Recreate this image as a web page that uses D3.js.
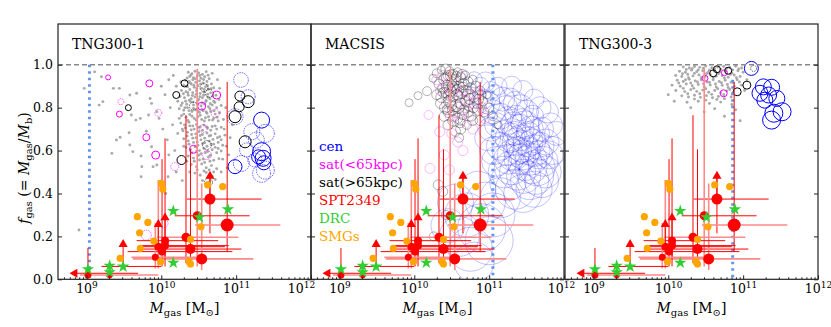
<!DOCTYPE html>
<html>
<head>
<meta charset="utf-8">
<script src="https://cdn.jsdelivr.net/npm/d3@7"></script>
<style>
  body { margin: 0; background: #fff; }
  svg { display: block; }
  text { font-family: "DejaVu Serif", serif; }
</style>
</head>
<body>
<svg id="chart" width="831" height="327"></svg>
<script>

// ---- data (log10 Mgas, f_gas) ----
var panelNames = ["TNG300-1", "MACSIS", "TNG300-3"];
var xTicks = [1e9, 1e10, 1e11, 1e12];
var yTicks = [0, 0.2, 0.4, 0.6, 0.8, 1.0];
var limitMass = [9.04, 11.05, 10.86];   // blue dotted line, log M
var limitTop = [1.0, 1.0, 0.93];

var legendNames = ["cen", "sat(<65kpc)", "sat(>65kpc)", "SPT2349", "DRC", "SMGs"];
var legendColors = ["#0000ff", "#ff00ff", "#000000", "#ff0000", "#32cd32", "#ffa500"];

// SPT2349: logM, f, r, xlo, xhi, ylo, yhi, lightX, lightY
var sptPoints = [
	[10.65, 0.374, 5.5, 10.34, 11.34, 0.214, 0.48, 0, 0],
	[10.88, 0.253, 6.5, 10.45, 11.59, 0.129, 0.92, 1, 0],
	[10.48, 0.296, 4.5, 10.18, 11.18, 0.06, 0.98, 0, 1],
	[10.33, 0.196, 4.5, 9.94, 11.03, 0.076, 0.765, 1, 0],
	[10.39, 0.141, 5, 9.76, 11.07, 0.09, 0.606, 0, 0],
	[10.54, 0.095, 5.5, 9.62, 11.23, 0.043, 0.447, 1, 1],
	[10.05, 0.18, 4, 9.67, 10.76, 0.06, 0.657, 0, 0],
	[10.05, 0.157, 4, 9.7, 10.9, 0.1, 0.2, 0, 0],
	[9.96, 0.152, 4, 9.75, 10.85, 0.05, 0.463, 0, 1],
	[10.01, 0.129, 4, 9.55, 10.95, 0.06, 0.56, 0, 0],
	[9.92, 0.103, 3.5, 9.6, 10.6, 0.05, 0.263, 1, 1],
	[9.02, 0.02, 3.5, 8.91, 9.96, 0.0, 0.146, 1, 0],
	[9.31, 0.015, 2.5, 9.31, 9.31, 0.015, 0.015, 0, 0]
];
// lower limits: logM, f, stem bottom, xlo, xhi
var sptUp = [
	[10.65, 0.486, 0.374, null, null],
	[10.05, 0.292, 0.18, null, null],
	[9.96, 0.261, 0.152, null, null],
	[9.49, 0.168, 0.06, 9.2, 10.0]
];
// upper limit in mass: logM, f, line end
var sptLeft = [[8.83, 0.028, 9.69]];

var drcPoints = [
	[10.16, 0.318], [10.51, 0.289], [10.89, 0.326], [10.16, 0.077],
	[9.02, 0.047], [9.31, 0.063], [9.31, 0.033], [9.49, 0.059]
];

var smgPoints = [
	[10.0, 0.447], [10.02, 0.42], [9.68, 0.292], [9.82, 0.265], [9.71, 0.217],
	[9.9, 0.178], [9.72, 0.144], [9.45, 0.098], [9.99, 0.082], [10.62, 0.44],
	[10.82, 0.432], [10.53, 0.245], [10.39, 0.186], [10.37, 0.082], [10.39, 0.071]
];

// TNG300-1
var tng1Gray = [
	[10.36,0.965],[10.41,0.958],[10.45,0.97],[10.5,0.962],[10.55,0.955],[10.6,0.968],[10.38,0.945],[10.43,0.94],[10.48,0.948],[10.53,0.937],
	[10.58,0.944],[10.64,0.935],[10.32,0.928],[10.37,0.922],[10.42,0.93],[10.46,0.918],[10.51,0.925],[10.56,0.915],[10.61,0.922],[10.67,0.91],
	[10.3,0.905],[10.35,0.898],[10.4,0.91],[10.44,0.895],[10.49,0.902],[10.54,0.89],[10.59,0.897],[10.63,0.886],[10.7,0.893],[10.27,0.88],
	[10.33,0.874],[10.38,0.885],[10.42,0.87],[10.47,0.878],[10.52,0.866],[10.57,0.873],[10.62,0.862],[10.66,0.869],[10.73,0.858],[10.25,0.852],
	[10.31,0.846],[10.36,0.858],[10.4,0.842],[10.45,0.85],[10.5,0.838],[10.55,0.846],[10.6,0.834],[10.65,0.842],[10.7,0.83],[10.77,0.838],
	[10.28,0.822],[10.34,0.816],[10.39,0.828],[10.43,0.812],[10.48,0.82],[10.53,0.808],[10.58,0.816],[10.63,0.804],[10.68,0.812],[10.74,0.8],
	[10.8,0.81],[10.24,0.795],[10.3,0.788],[10.35,0.8],[10.41,0.782],[10.46,0.79],[10.51,0.778],[10.56,0.786],[10.61,0.774],[10.66,0.782],
	[10.72,0.77],[10.78,0.776],[10.27,0.762],[10.33,0.755],[10.38,0.768],[10.44,0.75],[10.49,0.758],[10.54,0.745],[10.59,0.753],[10.64,0.742],
	[10.7,0.75],[10.76,0.738],[10.83,0.745],[10.26,0.728],[10.31,0.72],[10.37,0.732],[10.42,0.715],[10.47,0.722],[10.52,0.71],[10.57,0.718],
	[10.62,0.705],[10.68,0.712],[10.74,0.7],[10.8,0.708],[10.29,0.692],[10.35,0.685],[10.4,0.696],[10.46,0.678],[10.5,0.688],[10.55,0.675],
	[10.61,0.682],[10.66,0.67],[10.72,0.678],[10.78,0.665],[10.85,0.672],[10.3,0.655],[10.36,0.645],[10.42,0.658],[10.48,0.64],[10.53,0.65],
	[10.58,0.636],[10.64,0.644],[10.7,0.63],[10.76,0.638],[10.82,0.625],[10.33,0.615],[10.39,0.605],[10.45,0.618],[10.51,0.6],[10.57,0.61],
	[10.62,0.596],[10.68,0.604],[10.74,0.59],[10.8,0.598],[10.36,0.575],[10.43,0.565],[10.5,0.578],[10.56,0.56],[10.63,0.57],[10.7,0.555],
	[10.77,0.562],[10.4,0.535],[10.47,0.525],[10.54,0.538],[10.6,0.52],[10.67,0.53],[10.74,0.515],[10.45,0.495],[10.52,0.485],[10.6,0.498],
	[10.68,0.48],[10.55,0.46],[10.63,0.45],[10.72,0.465],
	[10.345,0.938],[10.395,0.952],[10.455,0.935],[10.515,0.95],[10.565,0.931],[10.625,0.951],[10.335,0.9],[10.385,0.915],[10.435,0.905],[10.475,0.888],
	[10.525,0.91],[10.575,0.885],[10.615,0.905],[10.665,0.888],[10.295,0.865],[10.355,0.87],[10.415,0.857],[10.465,0.862],[10.515,0.851],[10.565,0.858],
	[10.625,0.848],[10.685,0.853],[10.325,0.83],[10.375,0.835],[10.425,0.826],[10.485,0.833],[10.545,0.822],[10.595,0.829],[10.655,0.818],[10.715,0.824],
	[10.265,0.81],[10.315,0.8],[10.37,0.786],[10.43,0.796],[10.49,0.784],[10.545,0.792],[10.6,0.78],[10.65,0.795],[10.705,0.785],[10.3,0.77],
	[10.355,0.74],[10.41,0.76],[10.465,0.742],[10.52,0.765],[10.575,0.738],[10.63,0.758],[10.685,0.742],[10.745,0.755],[10.32,0.705],[10.38,0.715],
	[10.44,0.7],[10.495,0.708],[10.55,0.695],[10.605,0.71],[10.66,0.695],[10.72,0.715],[10.345,0.668],[10.405,0.675],[10.465,0.66],[10.52,0.67],
	[10.58,0.658],[10.64,0.668],[10.69,0.652],[10.75,0.66],[10.37,0.63],[10.43,0.638],[10.49,0.625],[10.55,0.632],[10.61,0.62],[10.665,0.628],
	[10.72,0.615],[10.41,0.59],[10.47,0.595],[10.53,0.585],[10.59,0.59],[10.655,0.578],[10.44,0.55],[10.51,0.556],[10.58,0.545],[10.65,0.55],
	[10.48,0.51],[10.57,0.505],[10.64,0.51],[10.7,0.5],[10.82,0.56],[10.84,0.7],[10.87,0.62],[10.76,0.61],[10.8,0.65],[10.24,0.75],
	[10.22,0.83],[10.26,0.92],[10.28,0.7],[10.3,0.62],[10.34,0.55],[10.38,0.5],
	[9.11,0.967],[8.97,0.89],[9.2,0.944],[9.36,0.89],[9.44,0.89],[9.22,0.828],[9.17,0.812],[9.67,0.867],[9.58,0.859],[9.85,0.843],
	[9.72,0.75],[9.66,0.742],[9.6,0.766],[9.83,0.766],[9.57,0.683],[9.45,0.662],[9.4,0.649],[9.8,0.69],[9.58,0.626],[9.62,0.595],
	[9.34,0.587],[9.73,0.575],[9.87,0.618],[9.74,0.525],[9.89,0.525],[9.73,0.478],[9.97,0.75],[9.94,0.781],[9.87,0.82],[8.9,0.23],
	[9.94,0.533],[10.09,0.478],[10.0,0.9],[10.05,0.86],[10.1,0.93],[10.12,0.8],[10.02,0.7],[10.08,0.65],[10.15,0.72],[10.18,0.6],
	[10.1,0.58],[10.2,0.9],[10.16,0.95],[10.22,0.68],[10.2,0.5],[10.28,0.46],[10.9,0.58],[10.88,0.52],[10.8,0.5],[10.92,0.66],
	[10.95,0.72],[10.86,0.8],[10.78,0.89],[10.75,0.93],[10.68,0.96],[9.98,0.44],[10.06,0.4]
];
// logM, f, radius, opacity, dotted
var tng1Cen = [
	[11.065,0.929,7.3,0.6,1],[11.16,0.851,7,0.6,1],[10.985,0.758,8,0.6,1],[11.21,0.688,8,0.6,1],[11.39,0.68,9,0.6,1],
	[11.27,0.649,8,0.6,1],[11.14,0.603,7,0.6,1],[11.34,0.494,9,0.6,1],[11.39,0.509,9,0.6,1],[11.07,0.54,8,0.6,1],
	[11.25,0.556,7,0.6,1],[11.34,0.742,8,1,0],[11.34,0.595,9,1,0],[11.36,0.564,8,1,0],[11.37,0.543,7,1,0],
	[10.985,0.525,7,1,0],[11.3,0.571,7,1,0]
];
var tng1SatIn = [
	[9.29,0.941,2.5,1,0],[9.84,0.913,3.5,1,0],[9.46,0.828,3,0.6,1],[9.44,0.77,3,1,0],[9.8,0.662,3.5,1,0],
	[9.925,0.579,4,1,0],[9.96,0.776,3.5,0.6,1],[10.74,0.859,4,1,0],[10.54,0.807,4,1,0],[10.72,0.774,4,0.6,1],
	[10.56,0.703,4,0.6,1],[10.43,0.606,4,1,0],[10.61,0.579,4.5,0.6,1],[10.18,0.525,4,0.6,1],[9.8,0.206,5,0.6,1],
	[10.03,0.261,4.5,0.6,1]
];
var tng1SatOut = [
	[10.31,0.913,3.5,1,0],[10.2,0.859,3.5,1,0],[10.57,0.893,4,0.6,1],[10.64,0.867,4,0.6,1],[10.43,0.807,4,0.6,1],
	[9.56,0.8,3,1,0],[11.05,0.854,5,1,0],[11.16,0.828,6,1,0],[11.04,0.804,5,1,0],[10.985,0.758,6,1,0],
	[11.12,0.641,6,1,0],[10.61,0.626,4.5,0.6,1],[10.27,0.556,4.5,1,0],[10.63,0.452,4,0.6,1]
];

// MACSIS: logM, f, radius
var macCen = [
	[10.8,0.93,8],[10.88,0.9,9],[10.95,0.92,10],[11.02,0.88,9],[10.92,0.84,10],[11.0,0.82,11],[11.08,0.86,10],[11.12,0.9,9],
	[11.18,0.84,12],[11.05,0.78,12],[11.15,0.76,13],[11.22,0.8,12],[11.28,0.84,11],[11.35,0.82,12],[11.42,0.8,13],[11.5,0.78,12],
	[11.58,0.76,11],[11.25,0.74,14],[11.32,0.72,13],[11.4,0.7,15],[11.48,0.72,14],[11.55,0.7,13],[11.62,0.68,14],[11.7,0.7,12],
	[11.2,0.68,13],[11.28,0.66,15],[11.36,0.64,14],[11.44,0.62,16],[11.52,0.64,15],[11.6,0.6,16],[11.68,0.62,14],[11.76,0.64,13],
	[11.15,0.62,14],[11.24,0.6,15],[11.32,0.58,16],[11.4,0.56,15],[11.48,0.54,17],[11.56,0.56,16],[11.64,0.52,18],[11.72,0.55,15],
	[11.8,0.58,14],[11.3,0.52,17],[11.38,0.5,18],[11.46,0.48,17],[11.54,0.46,19],[11.62,0.48,18],[11.7,0.46,17],[11.1,0.72,12],
	[11.02,0.7,12],[10.98,0.66,13],[11.06,0.6,14],[11.1,0.55,15],[11.2,0.5,16],[11.25,0.45,18],[11.35,0.42,20],[11.45,0.4,19],
	[11.6,0.42,18],[11.75,0.5,16],[11.85,0.6,14],[11.9,0.68,12],[11.82,0.72,12],[11.78,0.78,11],[11.68,0.8,11],[11.6,0.84,10],
	[11.45,0.88,10],[11.3,0.9,10],[10.85,0.42,18],[10.95,0.36,20],[10.7,0.3,22],[10.9,0.24,24],[10.6,0.2,20],[10.75,0.14,22],
	[11.05,0.3,22],[11.0,0.18,24],[10.55,0.36,18],[10.45,0.25,17],[11.15,0.38,20],[10.8,0.08,20],
	[11.36,0.76,11],[11.44,0.74,12],[11.52,0.68,12],[11.42,0.66,13],[11.5,0.6,14],[11.58,0.64,13],[11.34,0.68,12],[11.46,0.58,15],
	[11.56,0.52,16],[11.38,0.6,14],[11.26,0.56,15],[11.66,0.58,14]
];
var macSatIn = [
	[10.19,0.766,4.5],[10.34,0.688,5],[10.21,0.517,5],[10.47,0.51,5],[10.3,0.93,5],[10.38,0.95,5],[10.45,0.9,5],[10.5,0.87,5.5],
	[10.56,0.9,5],[10.6,0.85,5],[10.66,0.88,5],[10.7,0.83,5.5],[10.75,0.86,5],[10.8,0.82,5],[10.85,0.87,5],[10.9,0.8,5],
	[10.43,0.82,5],[10.48,0.76,5],[10.55,0.78,5.5],[10.62,0.74,5],[10.68,0.8,5],[10.73,0.76,5],[10.78,0.7,5],[10.5,0.68,5],
	[10.58,0.64,5],[10.65,0.6,5],[10.4,0.58,5],[10.95,0.75,5],[10.35,0.88,5],[10.62,0.95,4.5]
];
var macSatOut = [
	[9.93,0.823,4],[10.05,0.856,4],[10.17,0.877,4.5],[10.25,0.937,4],[10.3,0.96,4.5],[10.36,0.975,4],[10.42,0.98,5],[10.47,0.97,4.5],
	[10.33,0.91,5],[10.4,0.93,5.5],[10.45,0.95,5],[10.52,0.955,5],[10.58,0.965,4.5],[10.38,0.89,5],[10.44,0.9,6],[10.5,0.92,5],
	[10.55,0.93,5.5],[10.62,0.94,5],[10.68,0.95,4.5],[10.3,0.86,5],[10.36,0.85,5.5],[10.42,0.87,5],[10.48,0.88,6],[10.53,0.89,5.5],
	[10.6,0.9,5],[10.66,0.91,5.5],[10.72,0.92,5],[10.78,0.93,4.5],[10.35,0.82,5],[10.41,0.8,5.5],[10.47,0.83,6],[10.52,0.85,5],
	[10.57,0.86,5.5],[10.63,0.87,6],[10.69,0.88,5],[10.75,0.89,5.5],[10.82,0.9,5],[10.88,0.88,4.5],[10.4,0.76,5],[10.46,0.78,5.5],
	[10.51,0.79,5],[10.56,0.81,6],[10.62,0.82,5.5],[10.68,0.83,5],[10.74,0.84,5.5],[10.8,0.85,5],[10.86,0.84,5],[10.92,0.83,4.5],
	[10.97,0.86,4],[10.45,0.72,5],[10.52,0.74,5.5],[10.58,0.75,5],[10.65,0.77,5.5],[10.72,0.78,5],[10.79,0.8,5],[10.85,0.79,5.5],
	[10.93,0.78,5],[11.0,0.8,4.5],[10.55,0.69,5],[10.62,0.7,5],[10.7,0.72,4.5],[10.78,0.74,5],[10.88,0.74,5],[11.05,0.76,4.5],
	[11.12,0.72,4],[10.6,0.66,4.5],[10.32,0.44,5],[10.38,0.41,5],[10.42,0.3,4.5],[10.26,0.2,4.5],
	[10.43,0.94,5],[10.49,0.95,5.5],[10.56,0.945,5],[10.64,0.955,5],[10.39,0.87,5],[10.46,0.86,5.5],[10.51,0.9,5],[10.58,0.88,6],
	[10.65,0.895,5],[10.71,0.86,5.5],[10.44,0.79,5],[10.5,0.81,5],[10.59,0.8,5.5],[10.66,0.79,5],[10.73,0.81,5],[10.54,0.76,5],
	[10.61,0.73,5],[10.76,0.76,5],[10.84,0.82,5],[10.9,0.86,4.5]
];

// TNG300-3
var tng3Gray = [
	[10.2,0.99],[10.28,0.985],[10.35,0.992],[10.42,0.988],[10.5,0.994],[10.58,0.986],[10.66,0.99],[10.74,0.992],[10.82,0.987],[10.9,0.993],
	[10.98,0.985],[10.15,0.97],[10.23,0.965],[10.31,0.975],[10.38,0.968],[10.46,0.972],[10.53,0.964],[10.61,0.974],[10.69,0.966],[10.77,0.97],
	[10.85,0.962],[10.93,0.972],[11.0,0.965],[10.1,0.95],[10.18,0.945],[10.26,0.955],[10.33,0.948],[10.41,0.952],[10.49,0.944],[10.56,0.955],
	[10.64,0.946],[10.72,0.95],[10.8,0.942],[10.88,0.952],[10.96,0.945],[10.12,0.928],[10.2,0.922],[10.28,0.932],[10.36,0.925],[10.44,0.93],
	[10.52,0.92],[10.6,0.93],[10.68,0.922],[10.76,0.928],[10.84,0.918],[10.92,0.93],[10.05,0.905],[10.16,0.9],[10.24,0.91],[10.32,0.902],
	[10.4,0.908],[10.48,0.898],[10.56,0.906],[10.64,0.896],[10.72,0.904],[10.8,0.894],[10.88,0.9],[10.98,0.905],[10.1,0.88],[10.22,0.875],
	[10.3,0.884],[10.38,0.876],[10.46,0.882],[10.54,0.872],[10.62,0.88],[10.7,0.87],[10.78,0.878],[10.86,0.868],[10.18,0.855],[10.27,0.85],
	[10.35,0.858],[10.43,0.848],[10.51,0.856],[10.59,0.846],[10.67,0.852],[10.75,0.842],[10.84,0.85],[10.0,0.86],[10.25,0.825],[10.4,0.83],
	[10.55,0.82],[10.7,0.826],[10.85,0.815],[10.3,0.8],[10.62,0.795],[10.9,0.79],[10.48,0.78],[10.96,0.739],[10.75,0.76],[10.08,0.83],
	[11.05,0.93],[11.02,0.88],
	[10.24,0.978],[10.32,0.982],[10.4,0.976],[10.47,0.984],[10.55,0.975],[10.62,0.982],[10.7,0.978],[10.78,0.983],[10.86,0.976],[10.94,0.98],
	[10.19,0.958],[10.27,0.94],[10.35,0.96],[10.44,0.94],[10.51,0.958],[10.6,0.94],[10.67,0.958],[10.75,0.938],[10.83,0.955],[10.91,0.94],
	[10.14,0.915],[10.23,0.93],[10.3,0.915],[10.39,0.92],[10.47,0.912],[10.55,0.918],[10.63,0.91],[10.71,0.916],[10.79,0.908],[10.87,0.915],
	[10.95,0.92],[10.2,0.89],[10.34,0.89],[10.5,0.888],[10.66,0.888],[10.82,0.885],[10.26,0.865],[10.42,0.865],[10.58,0.862],[10.74,0.86],
	[10.35,0.84],[10.5,0.835],[10.65,0.838]
];
var tng3Cen = [
	[11.11,0.983,7,1,0],[11.27,0.897,8,1,0],[11.38,0.895,8,1,0],[11.225,0.867,8,1,0],[11.34,0.859,8,1,0],
	[11.45,0.843,8,1,0],[11.29,0.835,8,1,0],[11.52,0.781,9,1,0],[11.41,0.774,9,1,0],[11.38,0.742,9,1,0]
];
var tng3SatIn = [[10.75,0.963,3,1,0],[10.49,0.937,3,1,0],[10.74,0.867,3.5,1,0]];
var tng3SatOut = [
	[10.65,0.979,3.5,1,0],[10.6,0.96,3.5,1,0],[10.8,0.972,3.5,1,0],[11.05,0.905,4,1,0],[10.92,0.874,4,1,0],[11.14,0.983,3,0.6,1]
];

// ---- layout ----
var panelLeft = [58, 311, 565];
var panelW = 253;
var panelTop = 24;
var panelH = 255.3;

var svg = d3.select("#chart");

var x = d3.scaleLog().domain([Math.pow(10, 8.62), 1e12]).range([0, panelW]);
var y = d3.scaleLinear().domain([0, 1.19]).range([panelH, 0]);
function X(m) { return x(Math.pow(10, m)); }

var minorTicks = [];
[8, 9, 10, 11].forEach(function(e) {
	for (var k = 2; k <= 9; k++) {
		var v = k * Math.pow(10, e);
		if (v > x.domain()[0] && v < 1e12) minorTicks.push(v);
	}
});

var panels = [
	{ gray: tng1Gray, cen: tng1Cen, satIn: tng1SatIn, satOut: tng1SatOut, faint: false },
	{ gray: [], cen: macCen, satIn: macSatIn, satOut: macSatOut, faint: true },
	{ gray: tng3Gray, cen: tng3Cen, satIn: tng3SatIn, satOut: tng3SatOut, faint: false }
];

var defs = svg.append("defs");

panels.forEach(function(p, i) {

	var g = svg.append("g")
		.attr("transform", "translate(" + panelLeft[i] + "," + panelTop + ")");

	defs.append("clipPath").attr("id", "clip" + i)
		.append("rect").attr("width", panelW).attr("height", panelH);

	var plot = g.append("g").attr("clip-path", "url(#clip" + i + ")");

	// simulation galaxies
	plot.selectAll("circle.gray")
		.data(p.gray)
		.enter()
		.append("circle")
		.attr("cx", d => X(d[0]))
		.attr("cy", d => y(d[1]))
		.attr("r", 1.45)
		.attr("fill", "#a0a0a0")
		.attr("opacity", 0.9);

	function rings(list, color, faintAlpha) {
		plot.append("g").selectAll("circle")
			.data(list)
			.enter()
			.append("circle")
			.attr("cx", d => X(d[0]))
			.attr("cy", d => y(d[1]))
			.attr("r", d => d[2])
			.attr("fill", "none")
			.attr("stroke", color)
			.attr("stroke-width", p.faint ? 0.6 : 1)
			.attr("stroke-dasharray", d => (!p.faint && d[4]) ? "1.5,1" : null)
			.attr("stroke-opacity", d => p.faint ? faintAlpha : d[3]);
	}

	rings(p.cen, "#0000ff", 0.4);
	rings(p.satIn, "#ff00ff", 0.45);
	rings(p.satOut, "#000000", 0.5);

	// f = 1 line
	plot.append("line")
		.attr("x1", 0).attr("x2", panelW)
		.attr("y1", y(1)).attr("y2", y(1))
		.attr("stroke", "#888").attr("stroke-width", 1.4)
		.attr("stroke-dasharray", "5,3");

	// resolution limit
	plot.append("line")
		.attr("x1", X(limitMass[i])).attr("x2", X(limitMass[i]))
		.attr("y1", y(limitTop[i])).attr("y2", panelH)
		.attr("stroke", "#6495ed").attr("stroke-width", 3)
		.attr("stroke-dasharray", "2.5,4");

	// observations: error bars
	var errG = plot.append("g");
	sptPoints.forEach(function(d) {
		if (d[4] > d[3]) {
			errG.append("line")
				.attr("x1", X(d[3])).attr("x2", X(d[4]))
				.attr("y1", y(d[1])).attr("y2", y(d[1]))
				.attr("stroke", d[7] ? "#ff8a8a" : "#ff0000")
				.attr("stroke-width", d[7] ? 1.6 : 1);
		}
		if (d[6] > d[5]) {
			errG.append("line")
				.attr("x1", X(d[0])).attr("x2", X(d[0]))
				.attr("y1", y(d[5])).attr("y2", y(d[6]))
				.attr("stroke", d[8] ? "#ff8a8a" : "#ff0000")
				.attr("stroke-width", d[8] ? 1.6 : 1);
		}
	});
	sptUp.forEach(function(d) {
		errG.append("line")
			.attr("x1", X(d[0])).attr("x2", X(d[0]))
			.attr("y1", y(d[2])).attr("y2", y(d[1]))
			.attr("stroke", "#ff0000").attr("stroke-width", 1);
		if (d[3] !== null) {
			errG.append("line")
				.attr("x1", X(d[3])).attr("x2", X(d[4]))
				.attr("y1", y(d[2])).attr("y2", y(d[2]))
				.attr("stroke", "#ff0000").attr("stroke-width", 1);
		}
	});
	sptLeft.forEach(function(d) {
		errG.append("line")
			.attr("x1", X(d[0])).attr("x2", X(d[2]))
			.attr("y1", y(d[1])).attr("y2", y(d[1]))
			.attr("stroke", "#ff0000").attr("stroke-width", 1);
	});

	// markers
	plot.append("g").selectAll("circle")
		.data(sptPoints)
		.enter()
		.append("circle")
		.attr("cx", d => X(d[0]))
		.attr("cy", d => y(d[1]))
		.attr("r", d => d[2])
		.attr("fill", "#ff0000");

	var tri = d3.symbol().type(d3.symbolTriangle).size(36);
	plot.append("g").selectAll("path")
		.data(sptUp)
		.enter()
		.append("path")
		.attr("d", tri)
		.attr("transform", d => "translate(" + X(d[0]) + "," + (y(d[1]) + 1) + ")")
		.attr("fill", "#ff0000");

	plot.append("g").selectAll("path")
		.data(sptLeft)
		.enter()
		.append("path")
		.attr("d", tri)
		.attr("transform", d => "translate(" + (X(d[0]) + 1) + "," + y(d[1]) + ") rotate(-90)")
		.attr("fill", "#ff0000");

	var star = d3.symbol().type(d3.symbolStar).size(48);
	plot.append("g").selectAll("path")
		.data(drcPoints)
		.enter()
		.append("path")
		.attr("d", star)
		.attr("transform", d => "translate(" + X(d[0]) + "," + y(d[1]) + ")")
		.attr("fill", "#32cd32");

	plot.append("g").selectAll("circle")
		.data(smgPoints)
		.enter()
		.append("circle")
		.attr("cx", d => X(d[0]))
		.attr("cy", d => y(d[1]))
		.attr("r", 3.6)
		.attr("fill", "#ffa500");

	// axes
	var xAxis = g.append("g")
		.attr("transform", "translate(0," + panelH + ")")
		.call(d3.axisBottom(x).tickValues(xTicks).tickSize(-4).tickPadding(5)
			.tickFormat(d => "10"));
	xAxis.selectAll(".tick text")
		.attr("font-family", "DejaVu Serif, serif")
		.attr("font-size", 12.5)
		.attr("fill", "#000")
		.attr("dx", d => (d === 1e12 && i === 0) ? -10 : (d === 1e12 && i === 1 ? -3 : 0))
		.each(function(d) {
			d3.select(this).append("tspan")
				.attr("dy", -5)
				.attr("font-size", 9)
				.text(Math.round(Math.log10(d)));
		});

	g.append("g")
		.attr("transform", "translate(0," + panelH + ")")
		.call(d3.axisBottom(x).tickValues(minorTicks).tickSize(-2).tickFormat(""));

	var yAxis = g.append("g")
		.call(d3.axisLeft(y).tickValues(yTicks).tickSize(-4).tickPadding(5)
			.tickFormat(i === 0 ? d3.format(".1f") : ""));
	yAxis.selectAll(".tick text")
		.attr("font-family", "DejaVu Serif, serif")
		.attr("font-size", 12.5)
		.attr("fill", "#000");

	g.append("g")
		.attr("transform", "translate(" + panelW + ",0)")
		.call(d3.axisRight(y).tickValues(yTicks).tickSize(-4).tickFormat(""));

	g.selectAll(".domain").remove();
	g.selectAll(".tick line").attr("stroke", "#222");

	g.append("rect")
		.attr("width", panelW).attr("height", panelH)
		.attr("fill", "none").attr("stroke", "#222").attr("stroke-width", 1.2);

	// panel title
	g.append("text")
		.attr("x", 14).attr("y", 25)
		.attr("font-size", 14)
		.text(panelNames[i]);

	// x label
	var xl = g.append("text")
		.attr("x", panelW / 2).attr("y", 313 - panelTop)
		.attr("text-anchor", "middle")
		.attr("font-size", 14);
	xl.append("tspan").attr("font-style", "italic").text("M");
	xl.append("tspan").attr("font-size", 10).attr("dy", 3).text("gas");
	xl.append("tspan").attr("dy", -3).text(" [M");
	xl.append("tspan").attr("font-size", 10).attr("dy", 3).text("\u2299");
	xl.append("tspan").attr("dy", -3).text("]");

	// legend in the middle panel
	if (i === 1) {
		g.selectAll("text.legend")
			.data(legendNames)
			.enter()
			.append("text")
			.attr("class", "legend")
			.attr("x", 8)
			.attr("y", (_, k) => 150.5 - panelTop + k * 18)
			.attr("font-size", 13.5)
			.attr("fill", (_, k) => legendColors[k])
			.text(d => d);
	}
});

// y label
var yl = svg.append("text")
	.attr("transform", "translate(29,168) rotate(-90)")
	.attr("text-anchor", "middle")
	.attr("font-size", 14);
yl.append("tspan").attr("font-style", "italic").text("f");
yl.append("tspan").attr("font-size", 10).attr("dy", 3).text("gas");
yl.append("tspan").attr("dy", -3).text(" (= ");
yl.append("tspan").attr("font-style", "italic").text("M");
yl.append("tspan").attr("font-size", 10).attr("dy", 3).text("gas");
yl.append("tspan").attr("dy", -3).text("/");
yl.append("tspan").attr("font-style", "italic").text("M");
yl.append("tspan").attr("font-size", 10).attr("dy", 3).text("b");
yl.append("tspan").attr("dy", -3).text(")");

</script>
</body>
</html>
